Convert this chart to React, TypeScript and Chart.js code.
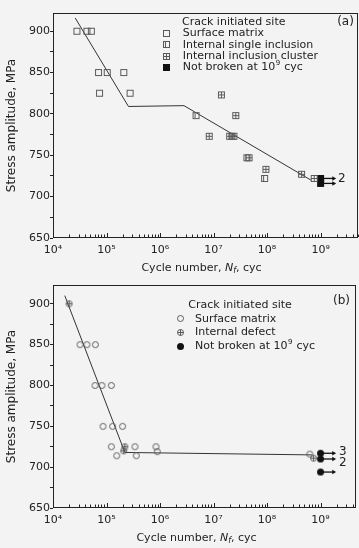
import React, { useEffect, useRef } from 'react';
import { Chart, registerables } from 'chart.js';

Chart.register(...registerables);

// ---------- data: panel (a) ----------
const A_SURFACE_N = [2.8e4, 4.3e4, 5.2e4, 7.1e4, 1.03e5, 2.1e5, 7.4e4, 2.76e5];
const A_SURFACE_S = [900, 900, 900, 850, 850, 850, 825, 825];
const A_SINGLE_N = [4.7e6, 4.2e7, 9.0e7];
const A_SINGLE_S = [798, 747, 722];
const A_CLUSTER_N = [1.4e7, 2.6e7, 8.3e6, 2.0e7, 2.2e7, 2.4e7, 4.6e7, 9.5e7, 4.4e8, 7.6e8];
const A_CLUSTER_S = [823, 798, 773, 773, 773, 773, 747, 733, 727, 722];
const A_RUNOUT_N = [1e9, 1e9];
const A_RUNOUT_S = [722, 716];
const A_FIT_N = [2.6e4, 2.57e5, 2.8e6, 6.6e8];
const A_FIT_S = [916, 809, 810, 720];
const A_COUNT_N = [2.5e9];
const A_COUNT_S = [721];
const A_COUNT_TEXT = ['2'];

// ---------- data: panel (b) ----------
const B_SURFACE_N = [3.2e4, 4.3e4, 6.2e4, 6.1e4, 8.2e4, 1.23e5, 8.6e4, 1.3e5, 2.0e5, 1.23e5, 3.4e5, 8.4e5, 1.55e5, 3.6e5, 8.9e5, 6.3e8];
const B_SURFACE_S = [850, 850, 850, 800, 800, 800, 750, 750, 750, 725, 725, 725, 714, 714, 719, 716];
const B_DEFECT_N = [2.0e4, 2.2e5, 2.1e5, 7.4e8];
const B_DEFECT_S = [900, 725, 720, 711];
const B_RUNOUT_N = [1e9, 1e9, 1e9];
const B_RUNOUT_S = [717, 710, 694];
const B_FIT_N = [1.66e4, 2.2e5, 6.9e8];
const B_FIT_S = [910, 718, 715];
const B_COUNT_N = [2.6e9, 2.6e9];
const B_COUNT_S = [719, 705.5];
const B_COUNT_TEXT = ['3', '2'];

// ---------- axes ----------
const X_MIN = 1e4;
const A_X_MAX = 5e9;
const B_X_MAX = 4.6e9;
const Y_MIN = 650;
const A_Y_MAX = 922;
const B_Y_MAX = 923;
const Y_TICKS = [650, 675, 700, 725, 750, 775, 800, 825, 850, 875, 900];
const Y_LABELLED = [650, 700, 750, 800, 850, 900];
const ARROW_END = 1.75e9;

const A_LEGEND = ['Surface matrix', 'Internal single inclusion', 'Internal inclusion cluster', 'Not broken at 10^9 cyc'];
const B_LEGEND = ['Surface matrix', 'Internal defect', 'Not broken at 10^9 cyc'];

const FONT = '"DejaVu Sans", "Liberation Sans", sans-serif';
const INK = '#222';
const MARK = '#5a5a5a';
const SUP: Record<string, string> = { '0': '⁰', '1': '¹', '2': '²', '3': '³', '4': '⁴', '5': '⁵', '6': '⁶', '7': '⁷', '8': '⁸', '9': '⁹' };

const pts = (xs: number[], ys: number[]) => xs.map((x, i) => ({ x, y: ys[i] }));

function marker(kind: string): HTMLCanvasElement {
  const c = document.createElement('canvas');
  c.width = 9;
  c.height = 9;
  const g = c.getContext('2d')!;
  g.strokeStyle = MARK;
  g.lineWidth = 1;
  g.fillStyle = '#111';
  const ln = (x1: number, y1: number, x2: number, y2: number) => {
    g.beginPath();
    g.moveTo(x1, y1);
    g.lineTo(x2, y2);
    g.stroke();
  };
  if (kind === 'sq') g.strokeRect(1.5, 1.5, 6, 6);
  if (kind === 'sqIn') {
    g.strokeRect(1.5, 1.5, 6, 6);
    ln(3.5, 1.5, 3.5, 7.5);
  }
  if (kind === 'sqX') {
    g.strokeRect(1.5, 1.5, 6, 6);
    ln(4.5, 1.5, 4.5, 7.5);
    ln(1.5, 4.5, 7.5, 4.5);
  }
  if (kind === 'sqF') g.fillRect(1, 1, 7, 7);
  if (kind === 'ci') {
    g.beginPath();
    g.arc(4.5, 4.5, 3, 0, Math.PI * 2);
    g.stroke();
  }
  if (kind === 'ciX') {
    g.beginPath();
    g.arc(4.5, 4.5, 3, 0, Math.PI * 2);
    g.stroke();
    ln(4.5, 1.5, 4.5, 7.5);
    ln(1.5, 4.5, 7.5, 4.5);
  }
  if (kind === 'ciF') {
    g.beginPath();
    g.arc(4.5, 4.5, 3.5, 0, Math.PI * 2);
    g.fill();
  }
  return c;
}

interface Panel {
  tag: string;
  xMax: number;
  yMax: number;
  padTop: number;
  padRight: number;
  xAxisH: number;
  series: { n: number[]; s: number[]; kind: string }[];
  runKind: string;
  fitN: number[];
  fitS: number[];
  runN: number[];
  runS: number[];
  countN: number[];
  countS: number[];
  countText: string[];
  legend: string[];
  legendKinds: string[];
  legX: number;
  legY: number;
  mkX: number;
  txtX: number;
  rowH: number;
  tagX: number;
  tagY: number;
  titleDx: number;
}

function drawRich(ctx: CanvasRenderingContext2D, text: string, x: number, y: number, size: number) {
  const parts = text.split('^');
  ctx.font = `${size}px ${FONT}`;
  ctx.fillText(parts[0], x, y);
  let cx = x + ctx.measureText(parts[0]).width;
  if (parts.length > 1) {
    const sup = parts[1].charAt(0);
    const rest = parts[1].slice(1);
    ctx.font = `${Math.round(size * 0.65)}px ${FONT}`;
    ctx.fillText(sup, cx + 0.5, y - size * 0.38);
    cx += ctx.measureText(sup).width + 1;
    ctx.font = `${size}px ${FONT}`;
    ctx.fillText(rest, cx, y);
  }
}

function makePlugin(p: Panel) {
  return {
    id: 'decor' + p.tag,
    afterDraw(chart: any) {
      const ctx: CanvasRenderingContext2D = chart.ctx;
      const a = chart.chartArea;
      const xs = chart.scales.x;
      const ys = chart.scales.y;
      ctx.save();
      ctx.strokeStyle = INK;
      ctx.lineWidth = 1;
      ctx.strokeRect(Math.round(a.left) + 0.5, Math.round(a.top) + 0.5, Math.round(a.right - a.left) - 1, Math.round(a.bottom - a.top) - 1);
      // inward x ticks
      for (const t of xs.ticks) {
        const px = Math.round(xs.getPixelForValue(t.value)) + 0.5;
        const len = t.major ? 4 : 2.5;
        ctx.beginPath();
        ctx.moveTo(px, a.bottom - 1);
        ctx.lineTo(px, a.bottom - 1 - len);
        ctx.stroke();
      }
      ctx.fillStyle = INK;
      ctx.textBaseline = 'middle';
      ctx.textAlign = 'left';
      // legend
      ctx.font = `11px ${FONT}`;
      ctx.fillText('Crack initiated site', a.left + p.legX, a.top + p.legY);
      p.legend.forEach((txt, i) => {
        const y = a.top + p.legY + p.rowH * (i + 1);
        const img = MARKERS[p.legendKinds[i]];
        ctx.drawImage(img, Math.round(a.left + p.mkX - img.width / 2), Math.round(y - img.height / 2));
        drawRich(ctx, txt, a.left + p.txtX, y, 11);
      });
      // panel tag
      ctx.textAlign = 'center';
      ctx.font = `12px ${FONT}`;
      ctx.fillText(p.tag, a.left + p.tagX, a.top + p.tagY);
      // specimen counts
      ctx.font = `12px ${FONT}`;
      p.countText.forEach((t, i) => {
        ctx.fillText(t, xs.getPixelForValue(p.countN[i]), ys.getPixelForValue(p.countS[i]));
      });
      // x title: Cycle number, N_f, cyc
      ctx.textAlign = 'left';
      const segs: [string, string, number][] = [
        ['Cycle number, ', `11px ${FONT}`, 0],
        ['N', `italic 11px ${FONT}`, 0],
        ['f', `italic 8px ${FONT}`, 3],
        [', cyc', `11px ${FONT}`, 0],
      ];
      let total = 0;
      for (const s of segs) {
        ctx.font = s[1];
        total += ctx.measureText(s[0]).width;
      }
      let x = (a.left + a.right) / 2 + p.titleDx - total / 2;
      const ty = a.bottom + 30;
      for (const s of segs) {
        ctx.font = s[1];
        ctx.fillText(s[0], x, ty + s[2]);
        x += ctx.measureText(s[0]).width;
      }
      ctx.restore();
    },
  };
}

let MARKERS: Record<string, HTMLCanvasElement> = {};

function buildConfig(p: Panel): any {
  const datasets: any[] = [];
  p.series.forEach((se) => {
    datasets.push({
      data: pts(se.n, se.s),
      pointStyle: MARKERS[se.kind],
      pointRadius: 4,
      showLine: false,
    });
  });
  datasets.push({
    data: pts(p.runN, p.runS),
    pointStyle: MARKERS[p.runKind],
    pointRadius: 4,
    showLine: false,
  });
  p.runN.forEach((n, i) => {
    datasets.push({
      data: [
        { x: n, y: p.runS[i] },
        { x: ARROW_END, y: p.runS[i] },
      ],
      showLine: true,
      borderColor: '#111',
      borderWidth: 1.3,
      pointStyle: 'triangle',
      rotation: 90,
      pointRadius: (c: any) => (c.dataIndex === 1 ? 2.6 : 0),
      pointBackgroundColor: '#111',
      pointBorderColor: '#111',
      pointBorderWidth: 0,
    });
  });
  datasets.push({
    data: pts(p.fitN, p.fitS),
    showLine: true,
    borderColor: '#333',
    borderWidth: 1,
    pointRadius: 0,
    tension: 0,
  });
  return {
    type: 'scatter',
    data: { datasets },
    options: {
      responsive: false,
      animation: false,
      events: [],
      layout: { autoPadding: false, padding: { top: p.padTop, right: p.padRight, left: 0, bottom: 0 } },
      plugins: { legend: { display: false }, tooltip: { enabled: false } },
      scales: {
        x: {
          type: 'logarithmic',
          min: X_MIN,
          max: p.xMax,
          afterFit: (s: any) => {
            s.height = p.xAxisH;
            s.paddingLeft = 0;
            s.paddingRight = 0;
          },
          afterBuildTicks: (s: any) => {
            const t: any[] = [];
            for (let e = 4; e <= 10; e++) {
              for (let d = 1; d <= 9; d++) {
                const v = d * Math.pow(10, e);
                if (v >= X_MIN && v <= p.xMax * 1.0001) t.push({ value: v, major: d === 1 });
              }
            }
            s.ticks = t;
          },
          grid: { display: true, drawOnChartArea: false, drawTicks: true, tickLength: 6, tickColor: 'rgba(0,0,0,0)' },
          border: { display: false },
          ticks: {
            autoSkip: false,
            maxRotation: 0,
            padding: 0,
            color: INK,
            font: { family: FONT, size: 11 },
            callback: (v: number) => {
              const e = Math.log10(v);
              const r = Math.round(e);
              if (Math.abs(e - r) < 1e-6) return '10' + String(r).split('').map((c) => SUP[c]).join('');
              return '';
            },
          },
        },
        y: {
          min: Y_MIN,
          max: p.yMax,
          afterFit: (s: any) => {
            s.width = 53;
            s.paddingTop = 0;
            s.paddingBottom = 0;
          },
          afterBuildTicks: (s: any) => {
            s.ticks = Y_TICKS.map((v) => ({ value: v }));
          },
          grid: { display: true, drawOnChartArea: false, drawTicks: true, tickLength: 3, tickColor: INK },
          border: { display: false },
          ticks: {
            padding: 0,
            color: INK,
            font: { family: FONT, size: 11 },
            callback: (v: number) => (Y_LABELLED.includes(v) ? String(v) : ''),
          },
          title: {
            display: true,
            text: 'Stress amplitude, MPa',
            color: INK,
            font: { family: FONT, size: 12 },
            padding: { top: 5, bottom: 0 },
          },
        },
      },
    },
    plugins: [makePlugin(p)],
  };
}

const PANEL_A: Panel = {
  tag: '(a)',
  xMax: A_X_MAX,
  yMax: A_Y_MAX,
  padTop: 13,
  padRight: 1,
  xAxisH: 36,
  series: [
    { n: A_SURFACE_N, s: A_SURFACE_S, kind: 'sq' },
    { n: A_SINGLE_N, s: A_SINGLE_S, kind: 'sqIn' },
    { n: A_CLUSTER_N, s: A_CLUSTER_S, kind: 'sqX' },
  ],
  runKind: 'sqF',
  fitN: A_FIT_N,
  fitS: A_FIT_S,
  runN: A_RUNOUT_N,
  runS: A_RUNOUT_S,
  countN: A_COUNT_N,
  countS: A_COUNT_S,
  countText: A_COUNT_TEXT,
  legend: A_LEGEND,
  legendKinds: ['sq', 'sqIn', 'sqX', 'sqF'],
  legX: 129,
  legY: 9.3,
  mkX: 113.7,
  txtX: 129.7,
  rowH: 11.25,
  tagX: 292.5,
  tagY: 9.3,
  titleDx: -4,
};

const PANEL_B: Panel = {
  tag: '(b)',
  xMax: B_X_MAX,
  yMax: B_Y_MAX,
  padTop: 11,
  padRight: 3,
  xAxisH: 40,
  series: [
    { n: B_SURFACE_N, s: B_SURFACE_S, kind: 'ci' },
    { n: B_DEFECT_N, s: B_DEFECT_S, kind: 'ciX' },
  ],
  runKind: 'ciF',
  fitN: B_FIT_N,
  fitS: B_FIT_S,
  runN: B_RUNOUT_N,
  runS: B_RUNOUT_S,
  countN: B_COUNT_N,
  countS: B_COUNT_S,
  countText: B_COUNT_TEXT,
  legend: B_LEGEND,
  legendKinds: ['ci', 'ciX', 'ciF'],
  legX: 135.3,
  legY: 20,
  mkX: 127,
  txtX: 142,
  rowH: 13.7,
  tagX: 288.5,
  tagY: 16,
  titleDx: -8,
};

function PanelChart({ panel }: { panel: Panel }) {
  const ref = useRef<HTMLCanvasElement>(null);
  useEffect(() => {
    if (!ref.current) return;
    if (!MARKERS.sq) {
      MARKERS = {};
      ['sq', 'sqIn', 'sqX', 'sqF', 'ci', 'ciX', 'ciF'].forEach((k) => (MARKERS[k] = marker(k)));
    }
    const chart = new Chart(ref.current, buildConfig(panel));
    return () => chart.destroy();
  }, [panel]);
  return <canvas ref={ref} width={359} height={274} style={{ display: 'block', width: 359, height: 274 }} />;
}

export default function App() {
  return (
    <div style={{ position: 'absolute', left: 0, top: 0, width: 359, height: 548, background: '#f3f3f3', overflow: 'hidden' }}>
      <PanelChart panel={PANEL_A} />
      <PanelChart panel={PANEL_B} />
    </div>
  );
}
